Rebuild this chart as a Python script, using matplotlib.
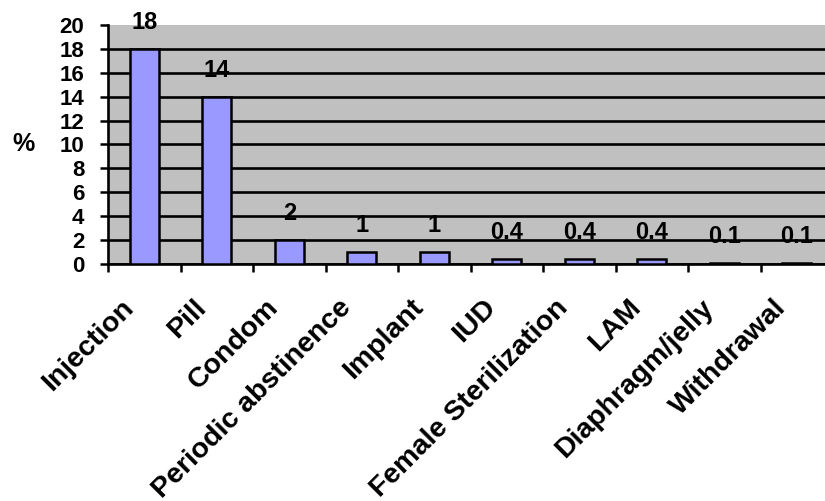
import matplotlib
matplotlib.use("Agg")
import matplotlib.pyplot as plt
import matplotlib.transforms as mtransforms
import numpy as np
from matplotlib.ticker import FixedLocator

categories = ["Injection", "Pill", "Condom", "Periodic abstinence", "Implant", "IUD",
              "Female Sterilization", "LAM", "Diaphragm/jelly", "Withdrawal"]
values = [18, 14, 2, 1, 1, 0.4, 0.4, 0.4, 0.1, 0.1]
labels = ["18", "14", "2", "1", "1", "0.4", "0.4", "0.4", "0.1", "0.1"]
yticks = [0, 2, 4, 6, 8, 10, 12, 14, 16, 18, 20]

plt.rcParams['font.family'] = ['Liberation Sans', 'DejaVu Sans']
plt.rcParams['font.weight'] = 'bold'

W, H = 825, 501
fig = plt.figure(figsize=(W / 100, H / 100), dpi=100)
left, right, top, bottom = 108, 833, 25, 264
ax = fig.add_axes([left / W, 1 - bottom / H, (right - left) / W, (bottom - top) / H])
ax.set_facecolor('#C0C0C0')

x = np.arange(len(categories))
ax.set_xlim(-0.5, len(categories) - 0.5)
ax.set_ylim(0, 20)
ax.set_yticks(yticks)
ax.yaxis.grid(True, color='black', linewidth=1.9)
ax.get_ygridlines()[-1].set_visible(False)
ax.set_axisbelow(True)
ax.bar(x, values, width=0.4, color='#9999FF', edgecolor='black', linewidth=1.8, zorder=3)

for xi, v, lab in zip(x, values, labels):
    ax.annotate(lab, (xi, v), xytext=(0, 14.4), textcoords='offset points',
                ha='center', va='baseline', fontsize=17, fontweight='bold', zorder=4,
                annotation_clip=False)

for s in ['top', 'right']:
    ax.spines[s].set_visible(False)
for s in ['left', 'bottom']:
    ax.spines[s].set_color('black')
    ax.spines[s].set_linewidth(1.9)

ax.tick_params(axis='y', direction='out', length=6, width=1.8, labelsize=16, pad=11)
ax.set_xticks(x)
ax.set_xticklabels(categories, rotation=45, ha='right', va='top', rotation_mode='anchor',
                   fontsize=20.5, fontweight='bold')
ax.tick_params(axis='x', which='major', length=0, pad=22)
shift = mtransforms.ScaledTranslation(-24 / 100, 0, fig.dpi_scale_trans)
for lab in ax.get_xticklabels():
    lab.set_transform(lab.get_transform() + shift)
ax.xaxis.set_minor_locator(FixedLocator(np.arange(-0.5, len(categories), 1.0)))
ax.tick_params(axis='x', which='minor', direction='out', length=6, width=1.8)
for lab in ax.get_yticklabels():
    lab.set_fontweight('bold')

fig.text(23.5 / W, 1 - 144 / H, '%', ha='center', va='center', fontsize=18, fontweight='bold')

fig.savefig('out.png', dpi=100)
